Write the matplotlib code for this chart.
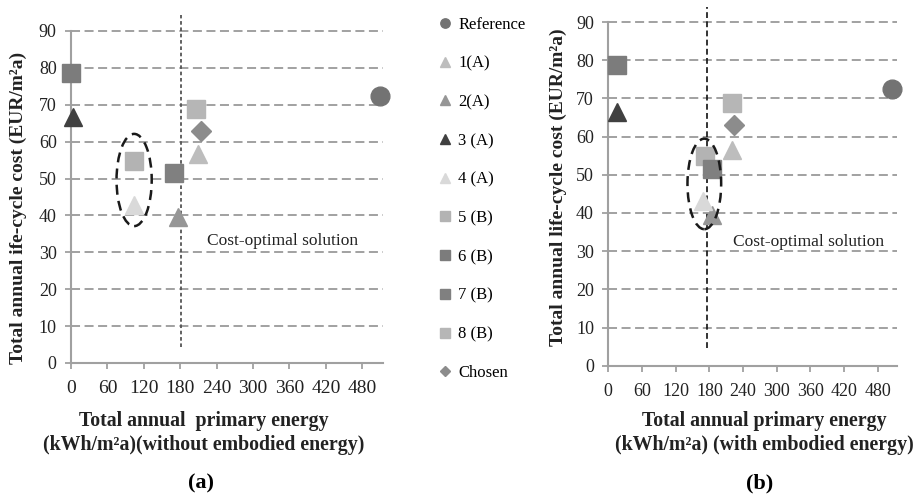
import numpy as np
import matplotlib
matplotlib.use('Agg')
import matplotlib.pyplot as plt
from matplotlib.patches import Ellipse

plt.rcParams['font.family'] = ['Liberation Serif', 'DejaVu Serif']

# design options
labels = ['Reference', '1(A)', '2(A)', '3 (A)', '4 (A)', '5 (B)', '6 (B)', '7 (B)', '8 (B)', 'Chosen']
markers = ['o', '^', '^', '^', '^', 's', 's', 's', 's', 'D']
colors = ['#737373', '#bdbdbd', '#969696', '#404040', '#d9d9d9',
          '#b3b3b3', '#7c7c7c', '#808080', '#b6b6b6', '#8c8c8c']
sizes = [13.5, 13.5, 13.5, 13.5, 13.5, 13.5, 13.5, 13.5, 13.5, 10.5]

# (a) without embodied energy
energy_a = [510, 209, 177, 3, 104, 104, 0, 170, 206, 215]
cost_a = [72.5, 56.6, 39.5, 66.7, 42.9, 54.8, 78.5, 51.4, 68.8, 63.0]
# (b) with embodied energy
energy_b = [505, 220, 185, 15, 169, 173, 16, 184, 221, 224]
cost_b = [72.4, 56.5, 39.4, 66.5, 43.0, 55.0, 78.7, 51.4, 68.7, 63.0]

x_ticks = [0, 60, 120, 180, 240, 300, 360, 420, 480]
y_ticks = [0, 10, 20, 30, 40, 50, 60, 70, 80, 90]

# cost-optimal line and highlight ellipse
opt_a = 181
opt_b = 176
ell_a = (104, 49.6, 58, 25)
ell_b = (171, 47.6, 60, 23.7)

fig = plt.figure(figsize=(9.19, 4.94), dpi=100)
ax1 = fig.add_axes([0.0773, 0.2652, 0.3393, 0.7095])
ax2 = fig.add_axes([0.6619, 0.2597, 0.3141, 0.7344])

grey = '#a0a0a0'


def style(ax, xs):
    ax.set_xlim(0, 514)
    ax.set_ylim(0, 95)
    ax.set_xticks(x_ticks)
    ax.set_yticks(y_ticks)
    for s in ['top', 'right']:
        ax.spines[s].set_visible(False)
    for s in ['left', 'bottom']:
        ax.spines[s].set_color(grey)
        ax.spines[s].set_linewidth(1.5)
    ax.spines['left'].set_bounds(0, 90)
    ax.tick_params(axis='both', colors=grey, length=4.3, width=1.3, direction='out')
    ax.tick_params(axis='y', labelcolor='#222222', labelsize=13, pad=6)
    ax.tick_params(axis='x', labelcolor='#222222', labelsize=xs, pad=8)
    ax.set_axisbelow(True)
    for v in y_ticks[1:]:
        ax.axhline(v, color='#9a9a9a', lw=1.3, ls=(0, (5, 2.5)), zorder=0)


style(ax1, 14)
style(ax2, 13)

handles = []
for i in range(len(labels)):
    h, = ax1.plot(energy_a[i], cost_a[i], marker=markers[i], color=colors[i],
                  ms=sizes[i], ls='none', label=labels[i], zorder=3, clip_on=False)
    handles.append(h)
    ax2.plot(energy_b[i], cost_b[i], marker=markers[i], color=colors[i],
             ms=sizes[i], ls='none', zorder=3, clip_on=False)

ax1.plot([opt_a, opt_a], [4.3, 94.3], color='#555555', lw=1.3, ls=(0, (2, 1.5)), zorder=2)
ax2.plot([opt_b, opt_b], [4.6, 94.0], color='#111111', lw=1.2, ls=(0, (3.5, 2)), zorder=2)

ax1.add_patch(Ellipse(ell_a[:2], ell_a[2], ell_a[3], fill=False, ec='#1a1a1a',
                      lw=1.8, ls=(0, (4, 2.5)), zorder=4))
ax2.add_patch(Ellipse(ell_b[:2], ell_b[2], ell_b[3], fill=False, ec='#1a1a1a',
                      lw=1.8, ls=(0, (4, 2.5)), zorder=4))

ax1.text(224, 33, 'Cost-optimal solution', fontsize=12.5, color='#222222', va='center')
ax2.text(222.6, 32.5, 'Cost-optimal solution', fontsize=12.5, color='#222222', va='center')

# axis titles
fig.text(18 / 919, 1 - 207.5 / 494, 'Total annual ife-cycle cost (EUR/m\u00b2a)',
         rotation=90, fontsize=14, fontweight='bold', ha='center', va='center', color='#222222')
fig.text(558 / 919, 1 - 187.5 / 494, 'Total annual life-cycle cost (EUR/m\u00b2a)',
         rotation=90, fontsize=14, fontweight='bold', ha='center', va='center', color='#222222')
fig.text(204 / 919, 1 - 433 / 494, 'Total annual  primary energy\n(kWh/m\u00b2a)(without embodied energy)',
         fontsize=14.3, fontweight='bold', ha='center', va='center', linespacing=1.25, color='#222222')
fig.text(764 / 919, 1 - 433 / 494, 'Total annual primary energy\n(kWh/m\u00b2a) (with embodied energy)',
         fontsize=14.3, fontweight='bold', ha='center', va='center', linespacing=1.25, color='#222222')
fig.text(201 / 919, 1 - 483 / 494, '(a)', fontsize=16, fontweight='bold', ha='center', va='center')
fig.text(760 / 919, 1 - 483 / 494, '(b)', fontsize=16, fontweight='bold', ha='center', va='center')

fig.legend(handles, labels, loc='upper left', bbox_to_anchor=(440 / 919, 1 - 17 / 494),
           frameon=False, fontsize=12, markerscale=0.5, handlelength=0.6,
           handletextpad=0.5, labelspacing=1.36, borderpad=0, borderaxespad=0)

fig.savefig('out.png', dpi=100)
